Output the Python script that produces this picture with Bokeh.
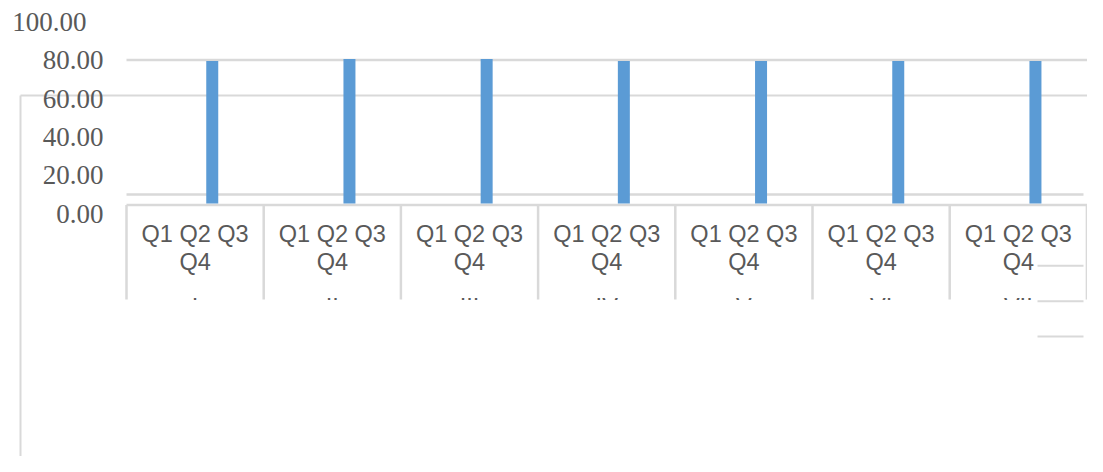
from bokeh.plotting import figure
from bokeh.models import Range1d
from bokeh.embed import file_html
from bokeh.resources import INLINE
from bokeh.core.properties import value

# ---- data ----
groups = ["I", "II", "III", "IV", "V", "VI", "VII"]
quarters = ["Q1", "Q2", "Q3", "Q4"]
q1_values = [0, 0, 0, 0, 0, 0, 0]
q2_values = [0, 0, 0, 0, 0, 0, 0]
q3_values = [79.4, 80.6, 80.6, 79.4, 79.4, 79.4, 79.4]
q4_values = [0, 0, 0, 0, 0, 0, 0]
tick_values = [0, 20, 40, 60, 80, 100]
tick_labels = ["0.00", "20.00", "40.00", "60.00", "80.00", "100.00"]

series = [q1_values, q2_values, q3_values, q4_values]

# ---- layout (picture pixels) ----
W, H, M = 1087, 456, 0
X0, CW = 126.0, 137.2          # category box left edge, cell width
V0, SLOPE = 203.0, (203.0 - 59.5) / 80.0   # value axis: px of 0 and px per unit
L0, LSLOPE = 213.0, (213.0 - 21.5) / 100.0  # tick label placement scale

GRID = "#D9D9D9"
TXT = "#595959"
BAR = "#5B9BD5"

p = figure(width=W, height=H, output_backend="svg", toolbar_location=None,
           x_axis_location=None, y_axis_location=None,
           x_range=Range1d((M - X0) / CW, (M + W - X0) / CW),
           y_range=Range1d((V0 - (M + H)) / SLOPE, (V0 - M) / SLOPE),
           min_border=0, outline_line_color=None)
p.grid.visible = False
p.background_fill_color = "white"
p.border_fill_color = "white"
p.extra_x_ranges = {"px": Range1d(M, M + W)}
p.extra_y_ranges = {"px": Range1d(M + H, M),
                    "lab": Range1d((L0 - (M + H)) / LSLOPE, (L0 - M) / LSLOPE)}

# ---- decorative lines (pixel space) ----
def seg(x0, y0, x1, y1, xr="px", w=2):
    p.segment(x0=[x0], y0=[y0], x1=[x1], y1=[y1], line_color=GRID, line_width=w,
              x_range_name=xr, y_range_name="px")

seg(126, 59.5, 1087.5, 59.5, w=2.5)
seg(126, 194, 1083, 194, w=2.5)
seg(20, 95, M + W, 95)
seg(20, 95, 20, M + H)
seg(126, 204.5, 1086.5, 204.5, w=2.5)
for yy in (265.3, 300.7, 336):
    seg(1037, yy, 1083, yy)

# category cell dividers (data x units)
n = len(groups)
p.segment(x0=list(range(n + 1)), y0=[204.5] * (n + 1), x1=list(range(n + 1)),
          y1=[299] * (n + 1), line_color=GRID, line_width=2.5, y_range_name="px")

# ---- bars ----
for qi, vals in enumerate(series):
    xs = [i + (qi + 0.5) / len(quarters) for i in range(n)]
    p.vbar(x=xs, top=vals, bottom=0, width=12 / CW, fill_color=BAR, line_color=None)

# ---- value tick labels ----
label_x = [86 if v == max(tick_values) else 103 for v in tick_values]
p.text(x=label_x, y=tick_values, text=tick_labels, text_align="right",
       text_baseline="middle", text_color=TXT, text_font=value("Liberation Serif"),
       text_font_size="27px", x_range_name="px", y_range_name="lab")

# ---- category labels ----
cx = [i + 0.5 for i in range(n)]
line1 = " ".join(quarters[:3])
line2 = quarters[3]
p.text(x=cx, y=[233] * n, text=[line1] * n, text_align="center", text_baseline="middle",
       text_color=TXT, text_font=value("Liberation Sans"), text_font_size="23.5px",
       y_range_name="px")
p.text(x=cx, y=[261] * n, text=[line2] * n, text_align="center", text_baseline="middle",
       text_color=TXT, text_font=value("Liberation Sans"), text_font_size="23.5px",
       y_range_name="px")
p.text(x=cx, y=[306.5] * n, text=groups, text_align="center", text_baseline="middle",
       text_color=TXT, text_font=value("Liberation Sans"), text_font_size="23.5px",
       y_range_name="px")
# clip the group labels like the original (only their tops show)
p.quad(left=[127.5], right=[1034], top=[299.5], bottom=[350], fill_color="white",
       line_color=None, x_range_name="px", y_range_name="px")

open("out.html", "w").write(file_html(p, INLINE))
